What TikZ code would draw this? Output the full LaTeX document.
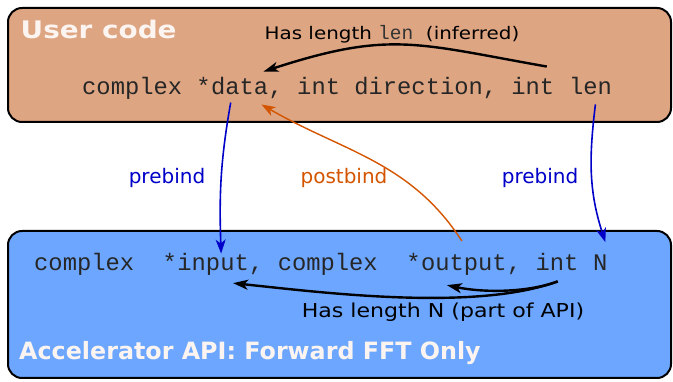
\documentclass[tikz,border=0pt]{standalone}
\usepackage{fontspec}
\setmainfont{DejaVu Sans}
\newfontfamily\widesans{DejaVu Sans}[FakeStretch=1.15]
\setmonofont{Liberation Mono}
\usetikzlibrary{arrows.meta,positioning}
\definecolor{usertan}{RGB}{222,165,130}
\definecolor{apiblue}{RGB}{108,166,255}
\definecolor{bindblue}{RGB}{0,0,200}
\definecolor{bindorange}{RGB}{212,85,0}
\newcommand{\cw}{14.28pt}
\tikzset{
  panel/.style={draw=black,line width=2pt,rounded corners=14pt,inner sep=0pt},
  code/.style={font=\fontsize{23.8}{23.8}\ttfamily,text=black!85,inner sep=0pt,anchor=base west},
  title/.style={font=\fontsize{23.8}{23.8}\selectfont\bfseries,text=white!88!usertan,inner sep=0pt,anchor=base west},
  widetitle/.style={title,font=\fontsize{24.2}{24.2}\widesans\bfseries},
  note/.style={font=\fontsize{#1}{#1}\widesans,inner sep=0pt},
  bindlabel/.style={font=\fontsize{20}{20}\selectfont,inner sep=0pt},
  prearrow/.style={draw=bindblue,line width=1.6pt,-{Stealth[length=14pt,width=10pt,inset=4pt]}},
  postarrow/.style={draw=bindorange,line width=1.4pt,-{Stealth[length=14pt,width=10pt,inset=4pt]}},
  lenarrow/.style={draw=black,line width=2.4pt,-{Stealth[length=15pt,width=10pt,inset=4pt]}},
}

\begin{document}
\begin{tikzpicture}[x=1pt,y=-1pt]
\useasboundingbox (0,0) rectangle (673,382);

% ---- the two panels
\node[panel,fill=usertan,minimum width=663pt,minimum height=114pt] (user) at (339.5,65) {};
\node[panel,fill=apiblue,minimum width=663pt,minimum height=147pt] (api) at (339.5,304.5) {};
\node[widetitle] (usertitle) at (20.5,39) {User code};
\node[title] (apititle) at (19,360) {Accelerator API: Forward FFT Only};

% ---- user signature
\node[code] (u1) at (82,95) {complex *};
\node[code] (data) at (u1.base east) {data};
\node[code] (u2) at (data.base east) {, int direction, int};
\node[code] (len) at ([xshift=\cw]u2.base east) {len};
\node[note=17.3] (inferred) at (392,34)
  {Has length {\fontsize{19.5}{19.5}\ttfamily\color{black!80}len}\ \ (inferred)};

% ---- accelerator signature
\node[code] (a1) at (34,271) {complex\ \ *};
\node[code] (input) at (a1.base east) {input};
\node[code] (a2) at (input.base east) {, complex\ \ *};
\node[code] (output) at (a2.base east) {output};
\node[code] (a3) at (output.base east) {, int};
\node[code] (N) at ([xshift=\cw]a3.base east) {N};
\node[note=19.2] (partapi) at (443,312) {Has length N (part of API)};

% ---- binding labels
\node[bindlabel,text=bindblue] (pre1) at (167,178) {prebind};
\node[bindlabel,text=bindorange] (post) at (344,178) {postbind};
\node[bindlabel,text=bindblue] (pre2) at (540,178) {prebind};

% ---- connectors
\draw[lenarrow] ([xshift=-22pt,yshift=11pt]len.north west) to[out=170,in=18,looseness=1.2] ([xshift=-5pt,yshift=6pt]data.north east);
\draw[prearrow] ([xshift=-9pt,yshift=-7pt]data.south) to[out=-100,in=92] ([xshift=8pt]input.north);
\draw[prearrow] ([xshift=5pt,yshift=-9pt]len.south) to[out=-97,in=108] ([xshift=5pt,yshift=13pt]N.north);
\draw[postarrow] ([xshift=-2pt,yshift=14pt]output.north) to[out=123,in=-30] ([xshift=-7pt,yshift=-9pt]data.south east);
\draw[lenarrow] ([xshift=-21pt,yshift=-6pt]a3.south east) to[out=200,in=-6,looseness=0.7] ([xshift=-16pt,yshift=-7pt]input.south east);
\draw[lenarrow] ([xshift=-21pt,yshift=-6pt]a3.south east) to[out=200,in=-12,looseness=0.8] ([xshift=-17pt,yshift=-9pt]output.south);
\end{tikzpicture}
\end{document}
